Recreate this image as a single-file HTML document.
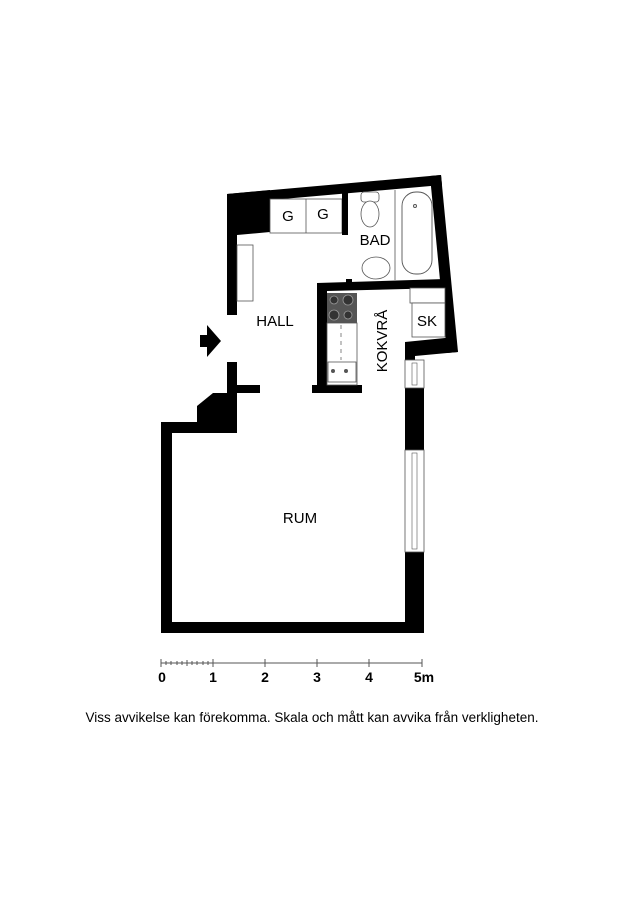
<!DOCTYPE html>
<html><head><meta charset="utf-8"><style>
html,body{margin:0;padding:0;background:#fff;}
svg{display:block;}
text{font-family:"Liberation Sans",Arial,sans-serif;fill:#000;}
</style></head><body>
<svg width="624" height="900" viewBox="0 0 624 900" xmlns="http://www.w3.org/2000/svg">
<polygon points="227,194 441,175 442,185 237,203" fill="#000"/>
<polygon points="227,194 270,190 270,232 237,235 237,315 227,315" fill="#000"/>
<rect x="270" y="199" width="72" height="34" fill="#fff" stroke="#555" stroke-width="0.8"/>
<line x1="306" y1="199" x2="306" y2="233" stroke="#555" stroke-width="0.8"/>
<rect x="342" y="193" width="6" height="42" fill="#000"/>
<polygon points="430,176 441,175 458,352 447,353" fill="#000"/>
<polygon points="317,283 445,279 446,288 327,291" fill="#000"/>
<rect x="346" y="279" width="6" height="6" fill="#000"/>
<rect x="317" y="283" width="10" height="102" fill="#000"/>
<rect x="312" y="385" width="50" height="8" fill="#000"/>
<polygon points="405,342 455,337 458,352 415,356 415,360 405,360" fill="#000"/>
<rect x="227" y="362" width="10" height="71" fill="#000"/>
<rect x="227" y="385" width="33" height="8" fill="#000"/>
<polygon points="197,406 213,393 237,393 237,433 197,433" fill="#000"/>
<rect x="161" y="422" width="76" height="11" fill="#000"/>
<rect x="161" y="422" width="11" height="211" fill="#000"/>
<rect x="161" y="622" width="263" height="11" fill="#000"/>
<rect x="405" y="388" width="19" height="62" fill="#000"/>
<rect x="405" y="552" width="19" height="81" fill="#000"/>
<rect x="405" y="360" width="19" height="28" fill="#fff" stroke="#555" stroke-width="0.8"/>
<rect x="412" y="363" width="5" height="22" fill="none" stroke="#555" stroke-width="0.6"/>
<rect x="405" y="450" width="19" height="102" fill="#fff" stroke="#555" stroke-width="0.8"/>
<rect x="412" y="453" width="5" height="96" fill="none" stroke="#555" stroke-width="0.6"/>
<rect x="237" y="245" width="16" height="56" fill="#fff" stroke="#555" stroke-width="0.8"/>
<line x1="395" y1="190" x2="395" y2="280" stroke="#555" stroke-width="0.8"/>
<rect x="402" y="192" width="30" height="82" rx="14" fill="#fff" stroke="#555" stroke-width="0.9"/>
<circle cx="415" cy="206" r="1.5" fill="none" stroke="#555"/>
<rect x="361" y="192" width="18" height="10" rx="3" fill="#fff" stroke="#555" stroke-width="0.8"/>
<ellipse cx="370" cy="214" rx="9" ry="13" fill="#fff" stroke="#555" stroke-width="0.8"/>
<ellipse cx="376" cy="268" rx="14" ry="11" fill="#fff" stroke="#555" stroke-width="0.8"/>
<rect x="327" y="293" width="30" height="30" fill="#555"/>
<circle cx="334" cy="300" r="4" fill="#333" stroke="#999" stroke-width="0.8"/>
<circle cx="348" cy="300" r="5" fill="#333" stroke="#999" stroke-width="0.8"/>
<circle cx="334" cy="315" r="5" fill="#333" stroke="#999" stroke-width="0.8"/>
<circle cx="348" cy="315" r="4" fill="#333" stroke="#999" stroke-width="0.8"/>
<rect x="327" y="323" width="30" height="62" fill="none" stroke="#555" stroke-width="0.8"/>
<line x1="341" y1="325" x2="341" y2="360" stroke="#666" stroke-width="0.8" stroke-dasharray="4,4"/>
<rect x="328" y="362" width="28" height="20" fill="#fff" stroke="#555" stroke-width="0.8"/>
<circle cx="333" cy="371" r="2" fill="#555"/><circle cx="346" cy="371" r="2" fill="#555"/>
<rect x="410" y="288" width="35" height="15" fill="#fff" stroke="#555" stroke-width="0.8"/>
<rect x="412" y="303" width="33" height="34" fill="#fff" stroke="#555" stroke-width="0.8"/>
<polygon points="200,335 207,335 207,325 221,341 207,357 207,347 200,347" fill="#000"/>
<g font-size="15" text-anchor="middle">
<text x="288" y="221">G</text>
<text x="323" y="219">G</text>
<text x="375" y="245">BAD</text>
<text x="275" y="326">HALL</text>
<text x="427" y="326">SK</text>
<text transform="translate(387,341) rotate(-90)">KOKVRÅ</text>
<text x="300" y="523">RUM</text>
</g>
<g stroke="#555" stroke-width="1">
<line x1="161" y1="663" x2="422" y2="663"/>
<line x1="161" y1="659" x2="161" y2="667"/><line x1="213" y1="659" x2="213" y2="667"/>
<line x1="265" y1="659" x2="265" y2="667"/><line x1="317" y1="659" x2="317" y2="667"/>
<line x1="369" y1="659" x2="369" y2="667"/><line x1="422" y1="659" x2="422" y2="667"/>
<line x1="166" y1="661" x2="166" y2="665"/><line x1="171" y1="661" x2="171" y2="665"/>
<line x1="177" y1="661" x2="177" y2="665"/><line x1="182" y1="661" x2="182" y2="665"/>
<line x1="187" y1="660" x2="187" y2="666"/><line x1="192" y1="661" x2="192" y2="665"/>
<line x1="197" y1="661" x2="197" y2="665"/><line x1="203" y1="661" x2="203" y2="665"/>
<line x1="208" y1="661" x2="208" y2="665"/>
</g>
<g font-size="14" font-weight="bold" text-anchor="middle">
<text x="162" y="682">0</text><text x="213" y="682">1</text><text x="265" y="682">2</text>
<text x="317" y="682">3</text><text x="369" y="682">4</text><text x="424" y="682">5m</text>
</g>
<text x="312" y="722" font-size="13.5" text-anchor="middle">Viss avvikelse kan förekomma. Skala och mått kan avvika från verkligheten.</text>
</svg>
</body></html>
